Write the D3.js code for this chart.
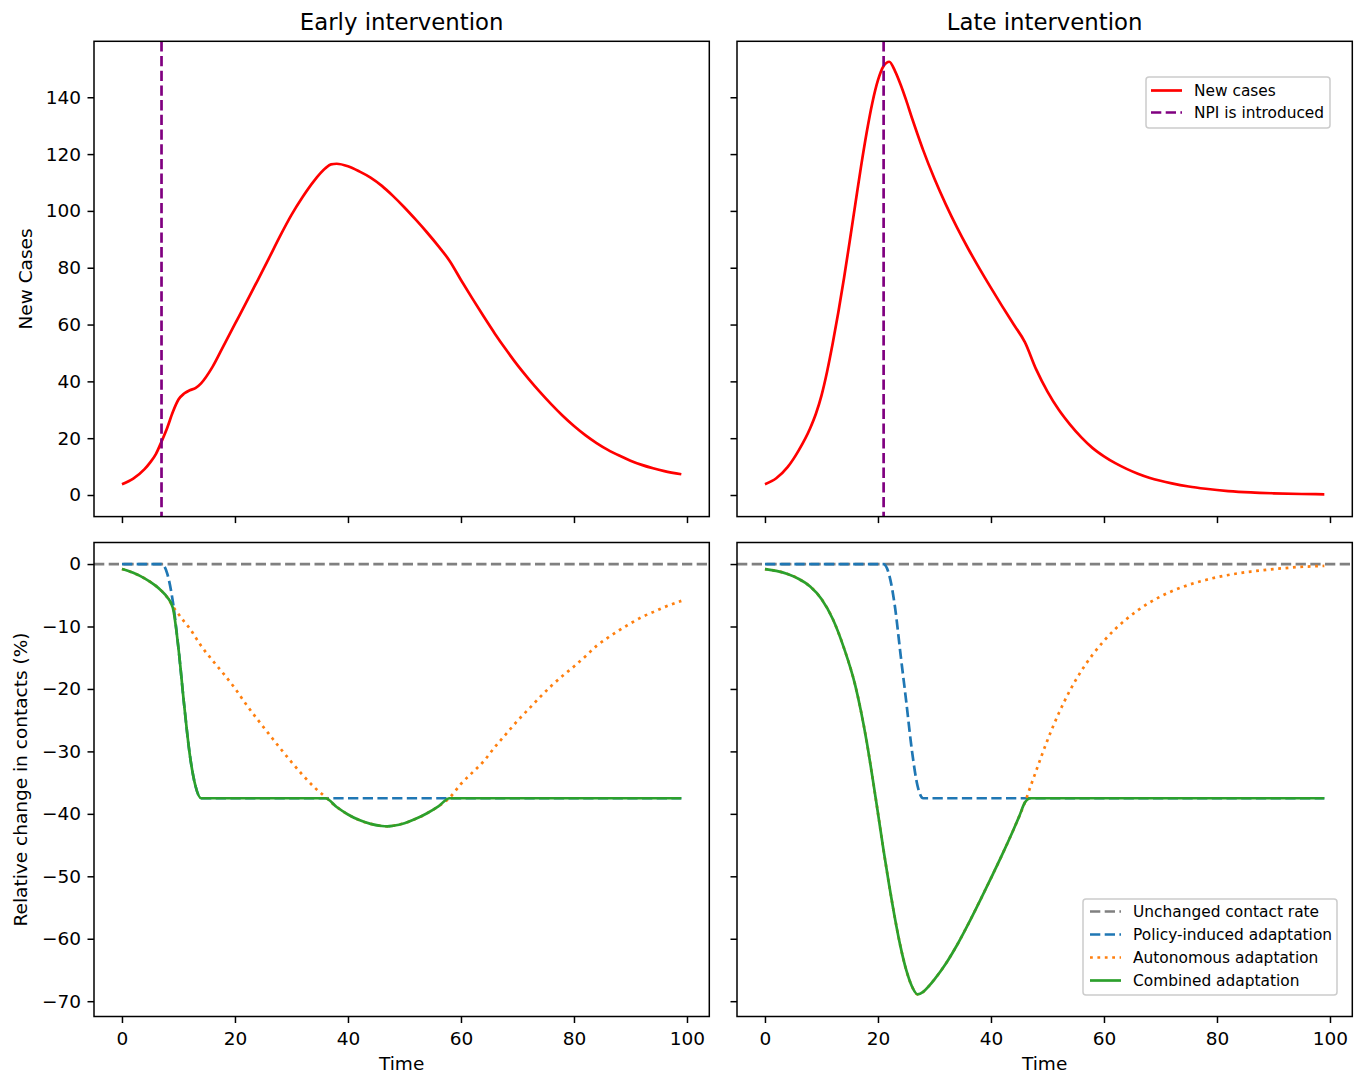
<!DOCTYPE html>
<html><head><meta charset="utf-8">
<script src="https://cdn.jsdelivr.net/npm/d3@7"></script>
<style>body{margin:0;background:#fff} svg{display:block} text{font-family:"DejaVu Sans",sans-serif;fill:#000}</style>
</head><body><svg id="c" width="1364" height="1074"></svg>
<script>
// ---------------- DATA ----------------
const panelTitles = ["Early intervention", "Late intervention"];
const xTicks = [0, 20, 40, 60, 80, 100];
const casesTicks = [0, 20, 40, 60, 80, 100, 120, 140];
const contactTicks = [0, -10, -20, -30, -40, -50, -60, -70];
const npiEarly = 7;
const npiLate = 21;

// Early intervention: new cases
const earlyCasesT = [0,2,4,5,6,7,8,9,10,11,12,13,14,16,18,20,22,24,26,28,30,32,34,36,37,38,40,42,44,46,48,50,52,54,56,58,60,62,64,66,68,70,72,74,76,78,80,82,84,86,88,90,92,94,96,99];
const earlyCases = [3.8,5.8,9.1,11.5,14.4,18.8,23.6,29.2,33.6,35.7,36.9,37.6,39.3,45,52.6,60.2,67.8,75.5,83.3,91.2,98.6,105.0,110.6,115.0,116.4,116.6,115.7,113.9,111.7,108.8,105.2,101.2,96.9,92.4,87.6,82.4,75.7,69.2,62.9,56.8,51.1,45.7,40.8,36.2,31.9,27.9,24.3,21.1,18.3,15.9,13.9,12.1,10.6,9.4,8.4,7.3];

// Late intervention: new cases
const lateCasesT = [0,2,4,6,8,9,10,11,12,13,14,15,16,17,18,19,20,21,22,23,24,25,26,27,28,30,32,34,36,38,40,42,44,46,48,50,52,54,56,58,60,62,64,66,68,70,72,75,78,82,86,90,95,99];
const lateCases = [3.8,5.9,9.8,15.8,23.5,28.5,35,43.5,53.5,64.5,76.5,89.3,102.5,115.6,127.6,138,146,151,152.5,149.3,144.5,138.9,132.8,127,121.4,111.3,102.3,94.1,86.6,79.6,72.9,66.4,60.1,53.8,44.2,36.4,30.0,24.8,20.3,16.5,13.6,11.2,9.2,7.5,6.1,5.0,4.1,3.0,2.2,1.4,0.9,0.6,0.35,0.25];

// Early intervention: contacts (%)
const earlyContactT = [0,2,4,6,7,8,9,10,11,12,13,14,16,18,20,22,24,26,28,30,32,34,36,38,40,42,44,46,47,48,50,52,54,56,58,60,62,64,66,68,70,72,74,76,78,80,82,84,86,88,90,92,94,96,99];
const earlyPolicy = [0,0,0,0,0,-1.5,-6,-13.5,-22.5,-30.5,-35.5,-37.5,-37.5,-37.5,-37.5,-37.5,-37.5,-37.5,-37.5,-37.5,-37.5,-37.5,-37.5,-37.5,-37.5,-37.5,-37.5,-37.5,-37.5,-37.5,-37.5,-37.5,-37.5,-37.5,-37.5,-37.5,-37.5,-37.5,-37.5,-37.5,-37.5,-37.5,-37.5,-37.5,-37.5,-37.5,-37.5,-37.5,-37.5,-37.5,-37.5,-37.5,-37.5,-37.5,-37.5];
const earlyAutonomous = [-0.8,-1.4,-2.3,-3.5,-4.3,-5.3,-6.8,-8.0,-9.2,-10.3,-11.7,-13.1,-15.4,-17.6,-19.9,-22.5,-24.9,-27.2,-29.5,-31.7,-33.8,-35.7,-37.3,-38.9,-40.1,-41.0,-41.6,-41.95,-42.0,-41.9,-41.5,-40.8,-39.9,-38.8,-37.4,-35.2,-33.4,-31.6,-29.3,-27.2,-25.1,-23.2,-21.3,-19.5,-17.9,-16.4,-14.8,-13.1,-11.8,-10.6,-9.5,-8.5,-7.7,-6.9,-5.9];
const earlyCombined = [-0.8,-1.4,-2.3,-3.5,-4.3,-5.3,-7.0,-13.5,-22.5,-30.5,-35.5,-37.5,-37.5,-37.5,-37.5,-37.5,-37.5,-37.5,-37.5,-37.5,-37.5,-37.5,-37.5,-38.9,-40.1,-41.0,-41.6,-41.95,-42.0,-41.9,-41.5,-40.8,-39.9,-38.8,-37.5,-37.5,-37.5,-37.5,-37.5,-37.5,-37.5,-37.5,-37.5,-37.5,-37.5,-37.5,-37.5,-37.5,-37.5,-37.5,-37.5,-37.5,-37.5,-37.5,-37.5];

// Late intervention: contacts (%)
const lateContactT = [0,2,4,6,8,10,12,14,16,17,18,19,20,21,22,23,24,25,26,27,28,29,30,32,34,36,38,40,42,44,45,46,47,48,49,50,52,54,56,58,60,62,64,66,68,70,72,74,76,78,80,82,84,86,88,90,92,94,96,99];
const latePolicy = [0,0,0,0,0,0,0,0,0,0,0,0,0,0,-1.8,-6.8,-14.5,-22,-29.8,-35.5,-37.5,-37.5,-37.5,-37.5,-37.5,-37.5,-37.5,-37.5,-37.5,-37.5,-37.5,-37.5,-37.5,-37.5,-37.5,-37.5,-37.5,-37.5,-37.5,-37.5,-37.5,-37.5,-37.5,-37.5,-37.5,-37.5,-37.5,-37.5,-37.5,-37.5,-37.5,-37.5,-37.5,-37.5,-37.5,-37.5,-37.5,-37.5,-37.5,-37.5];
const lateAutonomous = [-0.8,-1.1,-1.6,-2.4,-3.6,-5.6,-8.8,-13.5,-19.5,-23.6,-28.4,-34.0,-39.9,-45.9,-51.5,-56.7,-61.3,-65.0,-67.6,-68.9,-68.5,-67.6,-66.5,-64.0,-61.0,-57.6,-54.0,-50.3,-46.5,-42.5,-40.4,-38.2,-35.6,-33.1,-30.6,-28.2,-23.9,-20.2,-17.1,-14.5,-12.3,-10.4,-8.8,-7.4,-6.2,-5.2,-4.35,-3.65,-3.05,-2.55,-2.1,-1.75,-1.45,-1.2,-1.0,-0.8,-0.65,-0.5,-0.4,-0.3];
const lateCombined = [-0.8,-1.1,-1.6,-2.4,-3.6,-5.6,-8.8,-13.5,-19.5,-23.6,-28.4,-34.0,-39.9,-45.9,-51.5,-56.7,-61.3,-65.0,-67.6,-68.9,-68.5,-67.6,-66.5,-64.0,-61.0,-57.6,-54.0,-50.3,-46.5,-42.5,-40.4,-38.2,-37.5,-37.5,-37.5,-37.5,-37.5,-37.5,-37.5,-37.5,-37.5,-37.5,-37.5,-37.5,-37.5,-37.5,-37.5,-37.5,-37.5,-37.5,-37.5,-37.5,-37.5,-37.5,-37.5,-37.5,-37.5,-37.5,-37.5,-37.5];

// ---------------- STYLE / LAYOUT ----------------
const svg = d3.select('#c');
const LW = 2.7;
const DASH = "10.3,4.4";
const DOT = "2.8,4.6";
const C = {red:"#ff0000", purple:"#800080", gray:"#808080", blue:"#1f77b4", orange:"#ff7f0e", green:"#2ca02c"};

const cols = [{x0:94, x1:709.3}, {x0:737, x1:1352.3}];
const rows = [{y0:41.3, y1:516.6, dom:[-7.6,159.7], ticks:casesTicks}, {y0:542.5, y1:1016.5, dom:[-72.45,3.45], ticks:contactTicks}];

const fmt = d3.format("d");
const line = (xs, ys, xsc, ysc) => d3.line().curve(d3.curveMonotoneX)
  .x((d,i)=>xsc(xs[i])).y((d,i)=>ysc(ys[i]))(ys);

function panel(ci, ri) {
  const c = cols[ci], r = rows[ri];
  const x = d3.scaleLinear().domain([-4.95, 103.95]).range([c.x0, c.x1]);
  const y = d3.scaleLinear().domain(r.dom).range([r.y1, r.y0]);
  const id = `clip${ci}${ri}`;
  svg.append("clipPath").attr("id", id).append("rect")
    .attr("x", c.x0).attr("y", r.y0).attr("width", c.x1-c.x0).attr("height", r.y1-r.y0);
  const g = svg.append("g").attr("clip-path", `url(#${id})`);
  const xa = d3.axisBottom(x).tickValues(xTicks).tickSize(6.5).tickPadding(9)
    .tickFormat(ri === 1 ? fmt : () => "");
  const ya = d3.axisLeft(y).tickValues(r.ticks).tickSize(6.5).tickPadding(6.5)
    .tickFormat(ci === 0 ? fmt : () => "");
  const gx = svg.append("g").attr("transform", `translate(0,${r.y1})`).call(xa);
  const gy = svg.append("g").attr("transform", `translate(${c.x0},0)`).call(ya);
  [gx, gy].forEach(a => {
    a.select(".domain").remove();
    a.selectAll("line").attr("stroke", "#000").attr("stroke-width", 1.5);
    a.selectAll("text").attr("font-size", 18.5).attr("font-family", '"DejaVu Sans",sans-serif').attr("fill", "#000");
  });
  svg.append("rect").attr("x", c.x0).attr("y", r.y0).attr("width", c.x1-c.x0).attr("height", r.y1-r.y0)
    .attr("fill", "none").attr("stroke", "#000").attr("stroke-width", 1.5);
  return {g, x, y, c, r};
}

// Top-left
{
  const p = panel(0, 0);
  p.g.append("path").attr("d", line(earlyCasesT, earlyCases, p.x, p.y))
    .attr("fill", "none").attr("stroke", C.red).attr("stroke-width", LW);
  p.g.append("line").attr("x1", p.x(npiEarly)).attr("x2", p.x(npiEarly)).attr("y1", p.r.y0).attr("y2", p.r.y1)
    .attr("stroke", C.purple).attr("stroke-width", LW).attr("stroke-dasharray", DASH);
}
// Top-right
{
  const p = panel(1, 0);
  p.g.append("path").attr("d", line(lateCasesT, lateCases, p.x, p.y))
    .attr("fill", "none").attr("stroke", C.red).attr("stroke-width", LW);
  p.g.append("line").attr("x1", p.x(npiLate)).attr("x2", p.x(npiLate)).attr("y1", p.r.y0).attr("y2", p.r.y1)
    .attr("stroke", C.purple).attr("stroke-width", LW).attr("stroke-dasharray", DASH);
}
function contactPanel(ci, T, pol, aut, comb) {
  const p = panel(ci, 1);
  p.g.append("line").attr("x1", p.c.x0).attr("x2", p.c.x1).attr("y1", p.y(0)).attr("y2", p.y(0))
    .attr("stroke", C.gray).attr("stroke-width", LW).attr("stroke-dasharray", DASH);
  p.g.append("path").attr("d", line(T, pol, p.x, p.y)).attr("fill", "none")
    .attr("stroke", C.blue).attr("stroke-width", LW).attr("stroke-dasharray", DASH);
  p.g.append("path").attr("d", line(T, aut, p.x, p.y)).attr("fill", "none")
    .attr("stroke", C.orange).attr("stroke-width", LW).attr("stroke-dasharray", DOT);
  p.g.append("path").attr("d", line(T, comb, p.x, p.y)).attr("fill", "none")
    .attr("stroke", C.green).attr("stroke-width", LW);
  return p;
}
contactPanel(0, earlyContactT, earlyPolicy, earlyAutonomous, earlyCombined);
contactPanel(1, lateContactT, latePolicy, lateAutonomous, lateCombined);

// Titles and x labels
panelTitles.forEach((t, i) => {
  svg.append("text").attr("x", (cols[i].x0 + cols[i].x1)/2).attr("y", 29.5)
    .attr("text-anchor", "middle").attr("font-size", 22.8).text(t);
  svg.append("text").attr("x", (cols[i].x0 + cols[i].x1)/2).attr("y", 1070)
    .attr("text-anchor", "middle").attr("font-size", 18.5).text("Time");
});
// Y labels
svg.append("text").attr("transform", `translate(32,${(rows[0].y0+rows[0].y1)/2}) rotate(-90)`)
  .attr("text-anchor", "middle").attr("font-size", 18.5).text("New Cases");
svg.append("text").attr("transform", `translate(27,${(rows[1].y0+rows[1].y1)/2}) rotate(-90)`)
  .attr("text-anchor", "middle").attr("font-size", 18.5).text("Relative change in contacts (%)");

// Legends
function legend(x, y, w, h, items, hx0, hx1, tx, rowY) {
  svg.append("rect").attr("x", x).attr("y", y).attr("width", w).attr("height", h).attr("rx", 3)
    .attr("fill", "#fff").attr("fill-opacity", 0.8).attr("stroke", "#cccccc").attr("stroke-width", 1.5);
  items.forEach((it, i) => {
    const yy = rowY[i];
    svg.append("line").attr("x1", hx0).attr("x2", hx1).attr("y1", yy).attr("y2", yy)
      .attr("stroke", it.color).attr("stroke-width", LW).attr("stroke-dasharray", it.dash || null);
    svg.append("text").attr("x", tx).attr("y", yy + 5.5).attr("font-size", 15.4).text(it.label);
  });
}
legend(1146, 77, 184, 51, [
  {label: "New cases", color: C.red},
  {label: "NPI is introduced", color: C.purple, dash: DASH}
], 1151, 1182, 1194, [90.5, 112.5]);
legend(1083, 899, 254, 96, [
  {label: "Unchanged contact rate", color: C.gray, dash: DASH},
  {label: "Policy-induced adaptation", color: C.blue, dash: DASH},
  {label: "Autonomous adaptation", color: C.orange, dash: DOT},
  {label: "Combined adaptation", color: C.green}
], 1090, 1121, 1133, [911.5, 934.5, 957.5, 980.5]);
</script></body></html>
